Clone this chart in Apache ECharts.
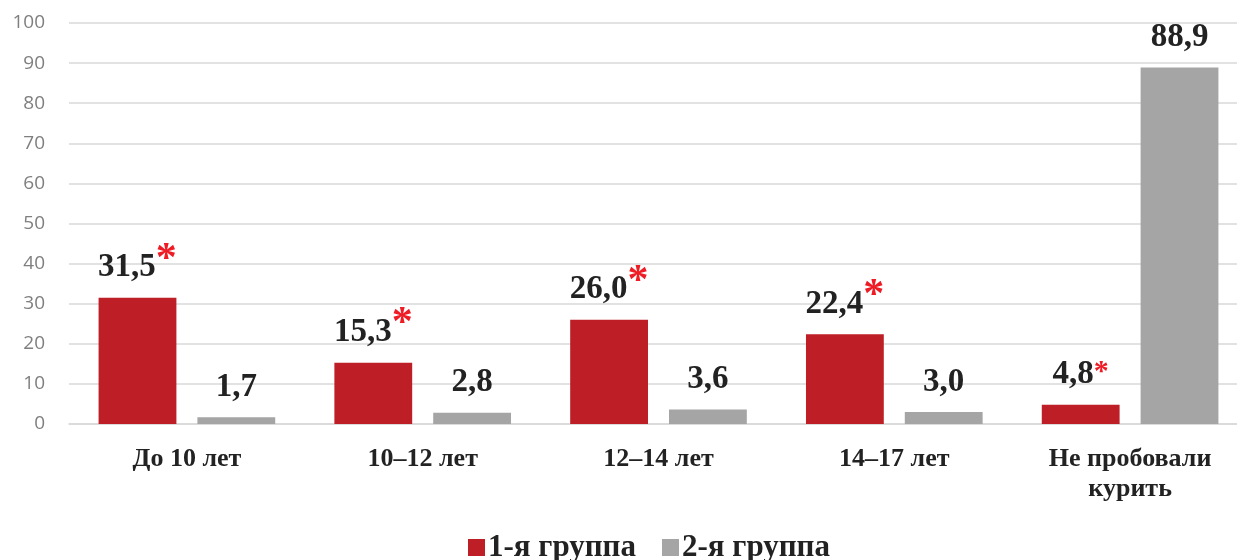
<!DOCTYPE html>
<html><head><meta charset="utf-8">
<script src="https://cdn.jsdelivr.net/npm/echarts@6/dist/echarts.min.js"></script>
<style>html,body{margin:0;padding:0;background:#fff;overflow:hidden;width:1237px;height:560px}#c{width:1248px;height:560px}</style>
</head><body><div id="c"></div>
<script>
const categories = ['До 10 лет', '10–12 лет', '12–14 лет', '14–17 лет', 'Не пробовали\nкурить'];
const group1 = [31.5, 15.3, 26.0, 22.4, 4.8];
const group2 = [1.7, 2.8, 3.6, 3.0, 88.9];
const group1Star = [true, true, true, true, true];
const seriesNames = ['1-я группа', '2-я группа'];
const yTicks = [0, 100, 10];

const fmt = v => v.toFixed(1).replace('.', ',');
const chart = echarts.init(document.getElementById('c'));
const serif = '"Liberation Serif", "DejaVu Serif", serif';
chart.setOption({
  animation: false,
  grid: { left: 69, top: 23, width: 1179, height: 401, containLabel: false },
  legend: {
    top: 527, left: 463, itemWidth: 17, itemHeight: 17, itemGap: 26,
    icon: 'rect',
    textStyle: { fontFamily: serif, fontWeight: 'bold', fontSize: 31, color: '#222', padding: [0, 0, 0, -2] },
    data: seriesNames
  },
  xAxis: {
    type: 'category', data: categories,
    axisLine: { show: true, lineStyle: { color: '#d9d9d9', width: 1.5 } },
    axisTick: { show: false },
    axisLabel: { fontFamily: serif, fontWeight: 'bold', fontSize: 26, color: '#222', margin: 20, lineHeight: 30, interval: 0 }
  },
  yAxis: {
    type: 'value', min: yTicks[0], max: yTicks[1], interval: yTicks[2],
    axisLine: { show: false }, axisTick: { show: false },
    splitLine: { lineStyle: { color: '#d9d9d9', width: 1.5 } },
    axisLabel: { fontFamily: '"Open Sans", "Liberation Sans", sans-serif', fontSize: 19, color: '#7f7f7f', margin: 24 }
  },
  series: [
    {
      name: seriesNames[0], type: 'bar', data: group1, barWidth: '33%', barGap: '27%',
      itemStyle: { color: '#be1e25' },
      label: {
        show: true, position: 'top', distance: 12,
        formatter: p => '{v|' + fmt(p.value) + '}' + (group1Star[p.dataIndex] ? (p.dataIndex === 4 ? '{s2|*}' : '{s|*}') : ''),
        rich: {
          v: { fontFamily: serif, fontWeight: 'bold', fontSize: 33, color: '#222', lineHeight: 36 },
          s: { fontFamily: serif, fontWeight: 'bold', fontSize: 42, color: '#ee1c25', lineHeight: 36, padding: [0, 0, 16, 0] },
          s2: { fontFamily: serif, fontWeight: 'bold', fontSize: 30, color: '#ee1c25', lineHeight: 36, padding: [0, 0, 6, 0] }
        }
      }
    },
    {
      name: seriesNames[1], type: 'bar', data: group2, barWidth: '33%',
      itemStyle: { color: '#a5a5a5' },
      label: {
        show: true, position: 'top', distance: 12,
        formatter: p => fmt(p.value),
        fontFamily: serif, fontWeight: 'bold', fontSize: 33, color: '#222', lineHeight: 36
      }
    }
  ]
});
</script></body></html>
